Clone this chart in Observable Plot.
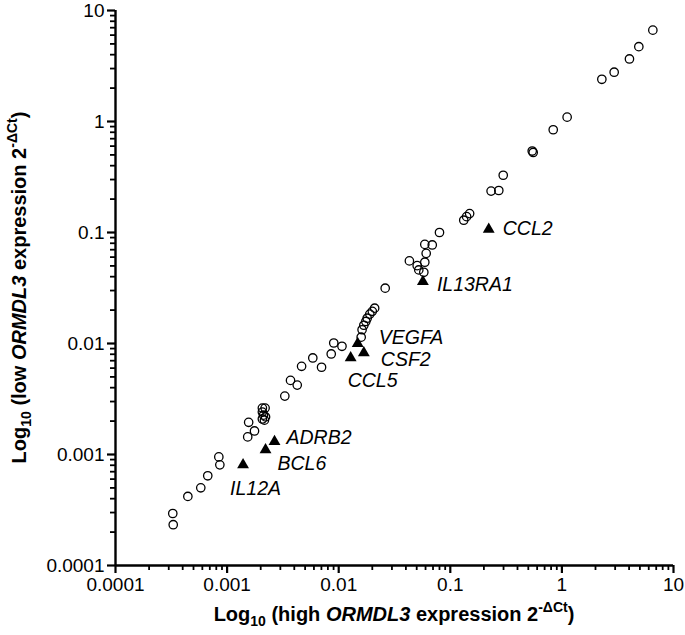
<!DOCTYPE html>
<html><head><meta charset="utf-8">
<script src="https://cdn.jsdelivr.net/npm/d3@7"></script>
<script src="https://cdn.jsdelivr.net/npm/@observablehq/plot@0.6"></script>
<style>
body{margin:0;background:#fff;}
#chart svg{font-family:"Liberation Sans",Arial,sans-serif;overflow:visible;}
</style>
</head><body><div id="chart"></div>
<script>
// Open circles: expression in high-ORMDL3 (x) vs low-ORMDL3 (y)
const circleHigh = [0.000326,0.000329,0.000445,0.000581,0.000671,0.000843,0.000861,0.00153,0.00156,0.00176,
  0.00207,0.00219,0.00207,0.00212,0.00221,0.00207,0.00216,0.00329,0.00370,0.00425,
  0.00465,0.00586,0.00702,0.00857,0.00903,0.0107,0.0159,0.0162,0.0168,0.0175,
  0.0180,0.0190,0.0200,0.0210,0.0261,0.0430,0.0505,0.0522,0.0579,0.0591,
  0.0608,0.0591,0.0689,0.0800,0.132,0.140,0.149,0.232,0.272,0.298,
  0.542,0.553,0.836,1.114,2.28,2.94,4.03,4.89,6.53];
const circleLow = [0.000294,0.000233,0.000419,0.000501,0.000643,0.000951,0.000807,0.00144,0.00195,0.00163,
  0.00262,0.00262,0.00241,0.00226,0.00218,0.00209,0.00204,0.00336,0.00465,0.00422,
  0.00623,0.00741,0.00611,0.00805,0.0101,0.00944,0.0114,0.0133,0.0146,0.0158,
  0.0169,0.0184,0.0195,0.0208,0.0315,0.0555,0.0503,0.0460,0.0438,0.0540,
  0.0649,0.0781,0.0772,0.100,0.129,0.139,0.148,0.236,0.239,0.328,
  0.542,0.526,0.843,1.094,2.40,2.78,3.66,4.72,6.65];

// Highlighted genes (filled triangles)
const geneNames = ["IL12A","BCL6","ADRB2","CCL5","VEGFA","CSF2","IL13RA1","CCL2"];
const geneHigh  = [0.00139,0.00221,0.00266,0.0128,0.0148,0.0168,0.0568,0.221];
const geneLow   = [0.000807,0.00110,0.00131,0.00741,0.00998,0.00822,0.0361,0.107];

// Axis ticks
const tickValues = [0.0001,0.001,0.01,0.1,1,10];
const tickLabels = ["0.0001","0.001","0.01","0.1","1","10"];

const circles = circleHigh.map((x,i)=>({x, y: circleLow[i]}));
const genes = geneNames.map((name,i)=>({name, x: geneHigh[i], y: geneLow[i]}));

// label placement (layout only)
const labelOffset = {
  CCL2:[14,0], IL13RA1:[14,3], VEGFA:[21,-6], CSF2:[17,7],
  CCL5:[-3,23], ADRB2:[12,-4], BCL6:[12,14], IL12A:[-13,24]
};

const minorTicks = [];
for (let e=-4; e<1; e++) for (let m=2; m<=9; m++) minorTicks.push(+(m*Math.pow(10,e)).toPrecision(3));
const labelMap = new Map(tickValues.map((v,i)=>[v, tickLabels[i]]));
const fmt = d => labelMap.get(d) ?? "";
const lo = 1e-4;

const W = 685, H = 635;
const chart = Plot.plot({
  width: W, height: H,
  marginLeft: 115, marginRight: 12, marginTop: 10, marginBottom: 70,
  x: {type:"log", domain:[1e-4,10]},
  y: {type:"log", domain:[1e-4,10]},
  style: {fontFamily:'"Liberation Sans", Arial, sans-serif', background:"#fff", color:"#000"},
  marks: [
    // tick labels
    Plot.axisX({ticks: tickValues, tickSize: 0, tickPadding: 12, tickFormat: fmt, fontSize: 19, label: null}),
    Plot.axisY({ticks: tickValues, tickSize: 0, tickPadding: 11, tickFormat: fmt, fontSize: 19, label: null}),
    // minor tick marks
    Plot.ruleX(minorTicks, {x: d => d, y1: lo, y2: lo, insetBottom: -5, stroke: "#000", strokeWidth: 1.8}),
    Plot.ruleY(minorTicks, {y: d => d, x1: lo, x2: lo, insetLeft: -5, stroke: "#000", strokeWidth: 1.8}),
    // major tick marks
    Plot.ruleX(tickValues, {x: d => d, y1: lo, y2: lo, insetBottom: -8, stroke: "#000", strokeWidth: 2.2}),
    Plot.ruleY(tickValues, {y: d => d, x1: lo, x2: lo, insetLeft: -8, stroke: "#000", strokeWidth: 2.2}),
    // axis lines
    Plot.ruleY([lo], {stroke:"#000", strokeWidth: 2.4}),
    Plot.ruleX([lo], {stroke:"#000", strokeWidth: 2.4}),
    Plot.dot(circles, {x:"x", y:"y", r: 4.2, stroke:"#000", strokeWidth: 1.3, fill: "none"}),
    Plot.dot(genes, {x:"x", y:"y", symbol:"triangle", r: 4.4, fill:"#000", stroke:"none"}),
    ...geneNames.map(name => Plot.text(genes.filter(d=>d.name===name), {
      x:"x", y:"y", text:"name", textAnchor:"start",
      dx: labelOffset[name][0], dy: labelOffset[name][1],
      fontSize: 19.5, fontStyle:"italic", fill:"#000"
    }))
  ]
});
document.getElementById("chart").appendChild(chart);

// Axis titles with subscript / italic / superscript
const svg = d3.select(chart);
function title(g, which){
  const t = g.append("text").attr("font-weight","bold").attr("font-size",20).attr("fill","#000").attr("text-anchor","middle");
  t.append("tspan").text("Log");
  t.append("tspan").attr("font-size",14).attr("dy",5).text("10");
  t.append("tspan").attr("dy",-5).text(" (" + which + " ");
  t.append("tspan").attr("font-style","italic").text("ORMDL3");
  t.append("tspan").text(" expression 2");
  t.append("tspan").attr("font-size",14).attr("dy",-9).text("-\u0394Ct");
  t.append("tspan").attr("dy",9).text(")");
  return t;
}
title(svg.append("g").attr("transform", `translate(${(115+673)/2},621)`), "high");
title(svg.append("g").attr("transform", `translate(26,${(10+565)/2}) rotate(-90)`), "low");
</script>
</body></html>
